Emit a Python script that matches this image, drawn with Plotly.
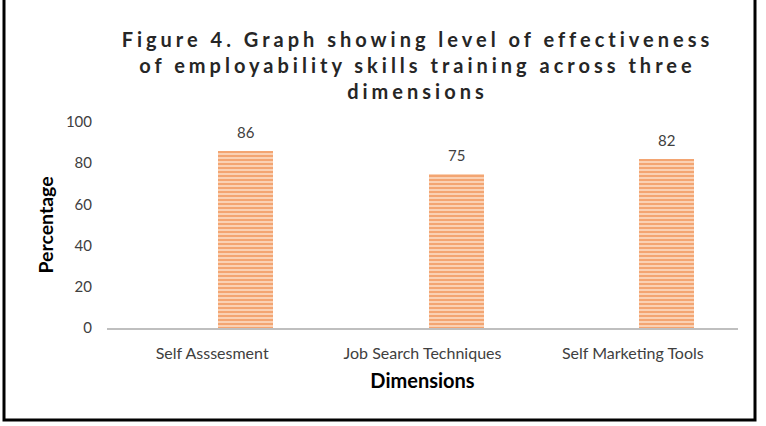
import plotly.graph_objects as go

categories = ["Self Asssesment", "Job Search Techniques", "Self Marketing Tools"]
values = [86, 75, 82]
y_ticks = [0, 20, 40, 60, 80, 100]

title_lines = ["Figure 4. Graph showing level of effectiveness",
               "of employability skills training across three",
               "dimensions"]

FONT = "Lato, Open Sans, sans-serif"
sp = '<span style="letter-spacing:4px">'
title_text = "<br>".join(sp + ln + "</span>" for ln in title_lines)

fig = go.Figure()
fig.add_trace(go.Bar(
    x=categories, y=values,
    width=0.26, offset=0.03,
    marker=dict(
        color="#F4B183",
        line=dict(width=0),
        pattern=dict(shape="-", fgcolor="#EA6E20", bgcolor="#FCDCC4", size=4, solidity=0.6),
    ),
    showlegend=False,
))

for c, v in zip(categories, values):
    fig.add_annotation(x=c, y=v, text=str(v), showarrow=False, xshift=0.16 * 210,
                       yanchor="bottom", yshift=8,
                       font=dict(family=FONT, size=15, color="#404040"))

fig.update_layout(
    width=766, height=426,
    margin=dict(l=107, r=28, t=122, b=98),
    paper_bgcolor="white", plot_bgcolor="white",
    title=dict(
        text=title_text,
        x=0.545, xanchor="center", y=0.89, yanchor="top",
        font=dict(family=FONT, size=20, color="#262626", weight="bold"),
    ),
    xaxis=dict(
        showline=True, linecolor="#BFBFBF", linewidth=2,
        ticks="", showgrid=False, ticklabelstandoff=10,
        tickfont=dict(family=FONT, size=16, color="#404040"),
        title=dict(text="<b>Dimensions</b>", standoff=13,
                   font=dict(family=FONT, size=20, color="#000000")),
    ),
    yaxis=dict(
        range=[0, 100], tickvals=y_ticks, showgrid=False, zeroline=False,
        showline=False, ticks="", ticklabelstandoff=14,
        tickfont=dict(family=FONT, size=15, color="#404040"),
        title=dict(text="<b>Percentage</b>", standoff=7,
                   font=dict(family=FONT, size=19.5, color="#000000")),
    ),
    bargap=0,
)

# outer frame
fig.add_shape(type="rect", xref="paper", yref="paper",
              x0=-103/631, x1=(755-107)/631, y0=-(420-328)/206, y1=(328+5)/206,
              line=dict(color="#000000", width=3), fillcolor="rgba(0,0,0,0)", layer="above")

fig.write_html("out.html")
